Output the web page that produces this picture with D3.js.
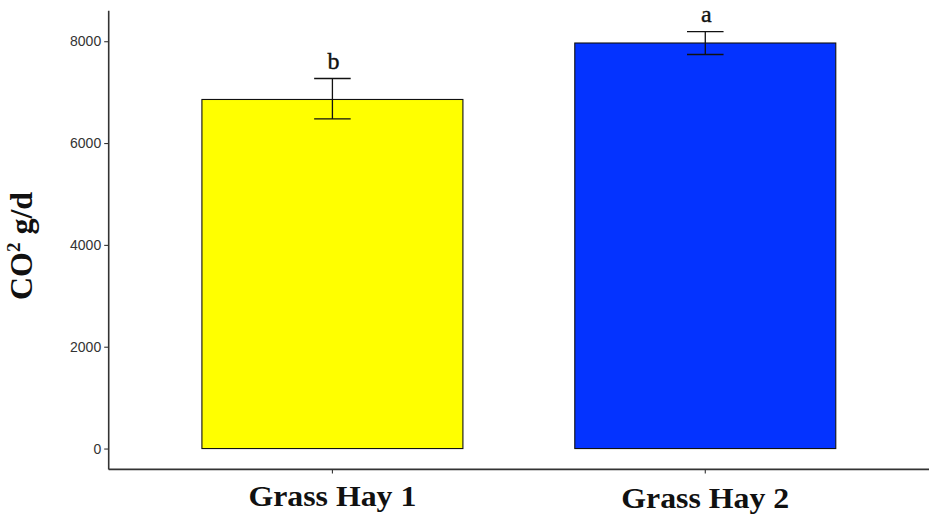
<!DOCTYPE html>
<html><head><meta charset="utf-8">
<script src="https://cdn.jsdelivr.net/npm/d3@7"></script>
<style>html,body{margin:0;padding:0;background:#fff;}svg{display:block;}</style>
</head><body>
<script>
const categories = ["Grass Hay 1", "Grass Hay 2"];
const means = [6856, 7965];
const errLow = [6474, 7739];
const errHigh = [7268, 8190];
const letters = ["b", "a"];
const barColors = ["#FFFF00", "#0433FF"];
const yTicks = [0, 2000, 4000, 6000, 8000];

const W = 935, H = 527;
const svg = d3.select("body").append("svg").attr("width", W).attr("height", H);

const x0 = 108.7, x1 = 929, yBottom = 469.4, yTop = 10.7;
const yMaxData = 8190;
const y = d3.scaleLinear().domain([-0.05 * yMaxData, yMaxData * 1.05]).range([yBottom, yTop]);
const x = d3.scaleBand().domain(categories).range([x0, x1]).paddingInner(0.3).paddingOuter(0.25);

// bars
svg.selectAll("rect.bar").data(categories).enter().append("rect")
  .attr("x", d => x(d)).attr("width", x.bandwidth())
  .attr("y", (d, i) => y(means[i])).attr("height", (d, i) => y(0) - y(means[i]))
  .attr("fill", (d, i) => barColors[i]).attr("stroke", "#111").attr("stroke-width", 1.1);

// error bars
const capW = x.bandwidth() * 0.14;
categories.forEach((c, i) => {
  const cx = x(c) + x.bandwidth() / 2;
  const g = svg.append("g").attr("stroke", "#111").attr("stroke-width", 1.3);
  g.append("line").attr("x1", cx).attr("x2", cx).attr("y1", y(errHigh[i])).attr("y2", y(errLow[i]));
  g.append("line").attr("x1", cx - capW / 2).attr("x2", cx + capW / 2).attr("y1", y(errHigh[i])).attr("y2", y(errHigh[i]));
  g.append("line").attr("x1", cx - capW / 2).attr("x2", cx + capW / 2).attr("y1", y(errLow[i])).attr("y2", y(errLow[i]));
  svg.append("text").attr("x", cx + 1).attr("y", y(errHigh[i]) - 9.5)
    .attr("text-anchor", "middle").attr("font-family", "Liberation Serif, serif")
    .attr("font-size", 24).attr("fill", "#111").attr("stroke", "#111").attr("stroke-width", 0.4).text(letters[i]);
});

// y axis
const yAxis = svg.append("g").attr("transform", `translate(${x0},0)`)
  .call(d3.axisLeft(y).tickValues(yTicks).tickSize(4.5).tickPadding(3).tickFormat(d3.format("d")));
yAxis.select(".domain").attr("stroke", "#333").attr("stroke-width", 1.6).attr("d", `M0,${yTop}V${yBottom}`);
yAxis.selectAll(".tick line").attr("stroke", "#333").attr("stroke-width", 1.1);
yAxis.selectAll(".tick text").attr("fill", "#333").attr("font-family", "Liberation Sans, Arial, sans-serif").attr("font-size", 14);

// x axis
const xAxis = svg.append("g").attr("transform", `translate(0,${yBottom})`)
  .call(d3.axisBottom(x).tickSize(4).tickPadding(0).tickFormat(""));
xAxis.select(".domain").attr("stroke", "#333").attr("stroke-width", 1.6).attr("d", `M${x0},0H${x1}`);
xAxis.selectAll(".tick line").attr("stroke", "#333").attr("stroke-width", 1.1);

categories.forEach((c, i) => {
  svg.append("text").attr("x", x(c) + x.bandwidth() / 2).attr("y", 506 + i * 2)
    .attr("text-anchor", "middle").attr("font-family", "Liberation Serif, serif")
    .attr("font-weight", "bold").attr("font-size", 30).attr("fill", "#111")
    .attr("textLength", 168).attr("lengthAdjust", "spacingAndGlyphs").text(c);
});

// y label
const yl = svg.append("text").attr("transform", "translate(32,246) rotate(-90)")
  .attr("text-anchor", "middle").attr("font-family", "Liberation Serif, serif")
  .attr("font-weight", "bold").attr("font-size", 32).attr("fill", "#111");
yl.append("tspan").text("CO");
yl.append("tspan").attr("font-size", 19).attr("dy", -12).text("2");
yl.append("tspan").attr("dy", 12).text(" g/d");
</script>
</body></html>
